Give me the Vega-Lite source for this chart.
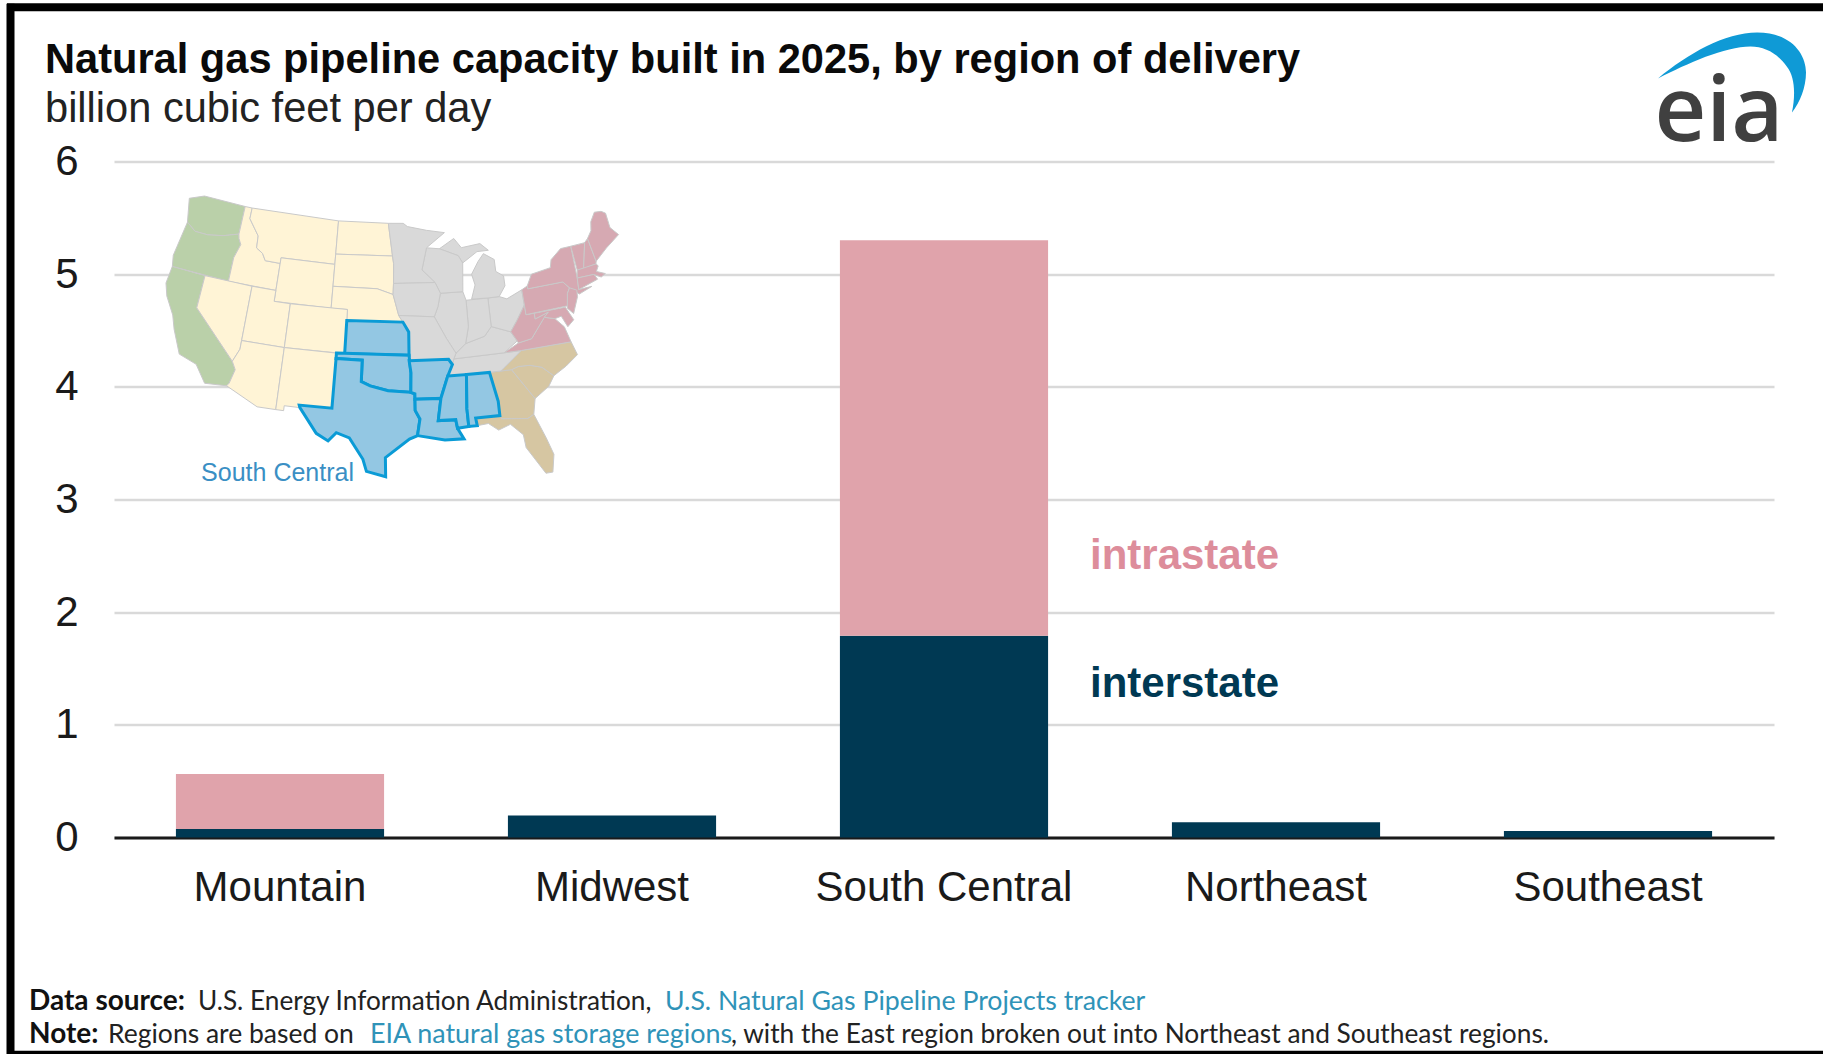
{"$schema":"https://vega.github.io/schema/vega-lite/v6.json","width":1660,"height":676,"autosize":{"type":"none"},"padding":{"left":114,"top":161.5,"right":49,"bottom":216.5},"background":"#ffffff",
"title":{"text":"Natural gas pipeline capacity built in 2025, by region of delivery","subtitle":"billion cubic feet per day","anchor":"start","frame":"group","dx":-69,"offset":-131,"font":"Liberation Sans","fontSize":41.6,"fontWeight":"bold","color":"#0a0a0a","subtitleFont":"Liberation Sans","subtitleFontSize":41.6,"subtitleColor":"#222222","subtitlePadding":8},
"config":{"view":{"stroke":null}},
"datasets":{
"bars":[{"region":"Mountain","type":"interstate","value":0.075,"o":1},{"region":"Mountain","type":"intrastate","value":0.488,"o":2},{"region":"Midwest","type":"interstate","value":0.195,"o":1},{"region":"South Central","type":"interstate","value":1.79,"o":1},{"region":"South Central","type":"intrastate","value":3.51,"o":2},{"region":"Northeast","type":"interstate","value":0.135,"o":1},{"region":"Southeast","type":"interstate","value":0.057,"o":1}],
"states":[
{"type":"Feature","properties":{"region":"Pacific"},"geometry":{"type":"Polygon","coordinates":[[[-124.7,48.4],[-122.8,49],[-117.03,49],[-117.04,46.4],[-119,45.93],[-121,45.65],[-122.7,45.65],[-124,46.25],[-124.7,48.4]]]}},
{"type":"Feature","properties":{"region":"Pacific"},"geometry":{"type":"Polygon","coordinates":[[[-124,46.25],[-122.7,45.65],[-121,45.65],[-119,45.93],[-117.04,46.4],[-116.9,46],[-116.5,45.5],[-117.03,44.2],[-117.03,42],[-124.2,42],[-124.5,43],[-124,46.25]]]}},
{"type":"Feature","properties":{"region":"Pacific"},"geometry":{"type":"Polygon","coordinates":[[[-124.2,42],[-120,42],[-120,39],[-114.63,35],[-114.13,34.3],[-114.5,33],[-114.72,32.72],[-117.12,32.53],[-118.5,34.03],[-120.6,34.55],[-121.9,36.6],[-122.5,37.8],[-123.8,39.3],[-124.35,40.4],[-124.2,42]]]}},
{"type":"Feature","properties":{"region":"Mountain"},"geometry":{"type":"Polygon","coordinates":[[[-117.03,49],[-116.05,49],[-116.05,48],[-114.5,46.6],[-114.4,45.5],[-113.5,45.1],[-113,44.5],[-111.05,44.48],[-111.05,42],[-117.03,42],[-117.03,44.2],[-116.5,45.5],[-116.9,46],[-117.04,46.4],[-117.03,49]]]}},
{"type":"Feature","properties":{"region":"Mountain"},"geometry":{"type":"Polygon","coordinates":[[[-116.05,49],[-104.05,49],[-104.05,45],[-111.05,45],[-111.05,44.48],[-113,44.5],[-113.5,45.1],[-114.4,45.5],[-114.5,46.6],[-116.05,48],[-116.05,49]]]}},
{"type":"Feature","properties":{"region":"Mountain"},"geometry":{"type":"Polygon","coordinates":[[[-111.05,45],[-104.05,45],[-104.05,41],[-111.05,41],[-111.05,45]]]}},
{"type":"Feature","properties":{"region":"Mountain"},"geometry":{"type":"Polygon","coordinates":[[[-104.05,49],[-97.2,49],[-96.6,46],[-104.05,45.94],[-104.05,49]]]}},
{"type":"Feature","properties":{"region":"Mountain"},"geometry":{"type":"Polygon","coordinates":[[[-104.05,45.94],[-96.6,46],[-96.45,45.3],[-96.45,43.5],[-96.5,42.5],[-98.5,43],[-104.05,43],[-104.05,45.94]]]}},
{"type":"Feature","properties":{"region":"Mountain"},"geometry":{"type":"Polygon","coordinates":[[[-104.05,43],[-98.5,43],[-96.5,42.5],[-95.8,40.6],[-95.3,40],[-102.05,40],[-102.05,41],[-104.05,41],[-104.05,43]]]}},
{"type":"Feature","properties":{"region":"Mountain"},"geometry":{"type":"Polygon","coordinates":[[[-120,42],[-114.04,42],[-114.04,36.2],[-114.63,35],[-120,39],[-120,42]]]}},
{"type":"Feature","properties":{"region":"Mountain"},"geometry":{"type":"Polygon","coordinates":[[[-114.04,42],[-111.05,42],[-111.05,41],[-109.05,41],[-109.05,37],[-114.04,37],[-114.04,42]]]}},
{"type":"Feature","properties":{"region":"Mountain"},"geometry":{"type":"Polygon","coordinates":[[[-109.05,41],[-102.05,41],[-102.05,37],[-109.05,37],[-109.05,41]]]}},
{"type":"Feature","properties":{"region":"Mountain"},"geometry":{"type":"Polygon","coordinates":[[[-114.04,37],[-109.05,37],[-109.05,31.33],[-111.07,31.33],[-114.72,32.72],[-114.5,33],[-114.13,34.3],[-114.63,35],[-114.04,36.2],[-114.04,37]]]}},
{"type":"Feature","properties":{"region":"Mountain"},"geometry":{"type":"Polygon","coordinates":[[[-109.05,37],[-103,37],[-103.05,32],[-106.6,32],[-106.5,31.78],[-108.2,31.78],[-108.2,31.33],[-109.05,31.33],[-109.05,37]]]}},
{"type":"Feature","properties":{"region":"Southeast"},"geometry":{"type":"Polygon","coordinates":[[[-85.6,35],[-83.1,35],[-81,32.1],[-81.4,30.7],[-82.1,30.4],[-84.9,30.7],[-85,31],[-85,32.3],[-85.6,35]]]}},
{"type":"Feature","properties":{"region":"Southeast"},"geometry":{"type":"Polygon","coordinates":[[[-87.6,31],[-85,31],[-84.9,30.7],[-82.1,30.4],[-81.4,30.7],[-80.5,28.4],[-80,26.8],[-80.4,25.2],[-81.1,25.2],[-82.7,27.8],[-82.8,29],[-84,30.1],[-85.3,29.7],[-86.3,30.4],[-87.5,30.3],[-87.6,31]]]}},
{"type":"Feature","properties":{"region":"Southeast"},"geometry":{"type":"Polygon","coordinates":[[[-83.1,35],[-82.3,35.2],[-81,35.15],[-79.7,34.8],[-78.55,33.85],[-79.3,33],[-81,32.1],[-83.1,35]]]}},
{"type":"Feature","properties":{"region":"Southeast"},"geometry":{"type":"Polygon","coordinates":[[[-84.32,35],[-81.7,36.59],[-75.9,36.55],[-75.5,35.3],[-77,34.5],[-78.55,33.85],[-79.7,34.8],[-81,35.15],[-82.3,35.2],[-83.1,35],[-84.32,35]]]}},
{"type":"Feature","properties":{"region":"Midwest"},"geometry":{"type":"Polygon","coordinates":[[[-89.5,36.5],[-83.68,36.6],[-81.7,36.59],[-84.32,35],[-88.2,35],[-90.3,35],[-89.7,36],[-89.5,36.5]]]}},
{"type":"Feature","properties":{"region":"Midwest"},"geometry":{"type":"Polygon","coordinates":[[[-89.2,37],[-88,37.8],[-85.7,38.3],[-84.8,39.1],[-82.6,38.4],[-82,37.5],[-83.68,36.6],[-89.5,36.5],[-89.2,37]]]}},
{"type":"Feature","properties":{"region":"Midwest"},"geometry":{"type":"Polygon","coordinates":[[[-84.8,41.7],[-83.4,41.7],[-82.5,41.4],[-80.52,42],[-80.5,40.6],[-81.7,39.3],[-82.6,38.4],[-84.8,39.1],[-84.8,41.7]]]}},
{"type":"Feature","properties":{"region":"Midwest"},"geometry":{"type":"Polygon","coordinates":[[[-87.5,41.7],[-84.8,41.7],[-84.8,39.1],[-85.7,38.3],[-88,37.8],[-87.5,39.3],[-87.5,41.7]]]}},
{"type":"Feature","properties":{"region":"Midwest"},"geometry":{"type":"Polygon","coordinates":[[[-90.6,42.5],[-87.8,42.5],[-87.5,41.7],[-87.5,39.3],[-88,37.8],[-89.2,37],[-90.2,38.4],[-91.5,40.4],[-91,41.3],[-90.6,42.5]]]}},
{"type":"Feature","properties":{"region":"Midwest"},"geometry":{"type":"MultiPolygon","coordinates":[[[[-85.5,45.1],[-84.7,45.75],[-83.4,45.1],[-83.4,44],[-82.5,43.5],[-82.5,42.6],[-83.4,41.7],[-84.8,41.7],[-86.8,41.76],[-86.2,43],[-86.5,44],[-85.5,45.1]]],[[[-90.4,46.55],[-88.4,47.4],[-87.5,46.5],[-85,46.7],[-84,46],[-85.5,46],[-87.5,45.1],[-88,45.8],[-90.4,46.55]]]]}},
{"type":"Feature","properties":{"region":"Midwest"},"geometry":{"type":"Polygon","coordinates":[[[-92.1,46.7],[-90.4,46.55],[-88,45.8],[-87.5,45.1],[-87.8,42.5],[-90.6,42.5],[-91.2,43.5],[-92.8,44.7],[-92.1,46.7]]]}},
{"type":"Feature","properties":{"region":"Midwest"},"geometry":{"type":"Polygon","coordinates":[[[-97.2,49],[-95.15,49],[-94.6,48.7],[-92,48.3],[-89.6,48],[-92.1,46.7],[-92.8,44.7],[-91.2,43.5],[-96.45,43.5],[-96.45,45.3],[-96.6,46],[-97.2,49]]]}},
{"type":"Feature","properties":{"region":"Midwest"},"geometry":{"type":"Polygon","coordinates":[[[-96.45,43.5],[-91.2,43.5],[-90.6,42.5],[-91,41.3],[-91.5,40.4],[-95.8,40.6],[-96.5,42.5],[-96.45,43.5]]]}},
{"type":"Feature","properties":{"region":"Midwest"},"geometry":{"type":"Polygon","coordinates":[[[-95.8,40.6],[-91.5,40.4],[-90.2,38.4],[-89.2,37],[-89.5,36.5],[-89.7,36],[-90.1,36.5],[-94.62,36.5],[-94.62,39.1],[-95.3,40],[-95.8,40.6]]]}},
{"type":"Feature","properties":{"region":"Northeast"},"geometry":{"type":"Polygon","coordinates":[[[-83.68,36.6],[-81.9,37.3],[-80.3,37.5],[-78.4,39.2],[-77.2,38.9],[-76.3,38],[-75.9,36.55],[-81.7,36.59],[-83.68,36.6]]]}},
{"type":"Feature","properties":{"region":"Northeast"},"geometry":{"type":"Polygon","coordinates":[[[-82.6,38.4],[-81.7,39.3],[-80.5,40.6],[-80.5,39.72],[-79.5,39.72],[-79.5,39.2],[-77.8,39.6],[-78.4,39.2],[-80.3,37.5],[-81.9,37.3],[-82,37.5],[-82.6,38.4]]]}},
{"type":"Feature","properties":{"region":"Northeast"},"geometry":{"type":"Polygon","coordinates":[[[-79.5,39.72],[-75.7,39.72],[-75.05,38.45],[-75.9,37.95],[-76.4,39],[-77.2,38.9],[-78.4,39.2],[-77.8,39.6],[-79.5,39.2],[-79.5,39.72]]]}},
{"type":"Feature","properties":{"region":"Northeast"},"geometry":{"type":"Polygon","coordinates":[[[-80.52,42],[-79.76,42.27],[-79.76,42],[-75.35,42],[-74.7,41.35],[-75.1,40.9],[-75.4,39.8],[-80.5,39.72],[-80.5,40.6],[-80.52,42]]]}},
{"type":"Feature","properties":{"region":"Northeast"},"geometry":{"type":"Polygon","coordinates":[[[-79.76,42.27],[-79,43.25],[-76.5,43.5],[-76.2,44.2],[-74.7,45],[-73.35,45],[-73.5,42.05],[-73.65,41],[-72,41],[-73.7,40.6],[-74.7,41.35],[-75.35,42],[-79.76,42],[-79.76,42.27]]]}},
{"type":"Feature","properties":{"region":"Northeast"},"geometry":{"type":"Polygon","coordinates":[[[-74.7,41.35],[-73.9,41],[-74,40.4],[-74.9,39],[-75.5,39.6],[-75.1,40.9],[-74.7,41.35]]]}},
{"type":"Feature","properties":{"region":"Northeast"},"geometry":{"type":"Polygon","coordinates":[[[-73.35,45],[-71.5,45],[-72.45,42.73],[-73.27,42.75],[-73.35,45]]]}},
{"type":"Feature","properties":{"region":"Northeast"},"geometry":{"type":"Polygon","coordinates":[[[-71.5,45],[-71,45.3],[-70.7,43.1],[-70.8,42.87],[-72.45,42.73],[-71.5,45]]]}},
{"type":"Feature","properties":{"region":"Northeast"},"geometry":{"type":"Polygon","coordinates":[[[-71,45.3],[-70.3,45.9],[-70,46.7],[-69.2,47.45],[-68.3,47.35],[-67.8,47.07],[-67.8,45.7],[-67,44.85],[-69,44],[-70.7,43.1],[-71,45.3]]]}},
{"type":"Feature","properties":{"region":"Northeast"},"geometry":{"type":"Polygon","coordinates":[[[-73.27,42.75],[-70.8,42.87],[-70.6,42.65],[-71,42.2],[-70,41.8],[-70.6,41.6],[-71.4,42],[-73.5,42.05],[-73.27,42.75]]]}},
{"type":"Feature","properties":{"region":"Northeast"},"geometry":{"type":"Polygon","coordinates":[[[-73.5,42.05],[-71.4,42],[-71.1,41.5],[-73.65,41],[-73.5,42.05]]]}}
],
"southcentral":[
{"type":"Feature","properties":{"name":"KS"},"geometry":{"type":"Polygon","coordinates":[[[-102.05,40],[-95.3,40],[-94.62,39.1],[-94.62,37],[-102.05,37],[-102.05,40]]]}},
{"type":"Feature","properties":{"name":"OK"},"geometry":{"type":"Polygon","coordinates":[[[-103,37],[-94.62,37],[-94.43,35.4],[-94.48,33.64],[-97,33.8],[-99,34.2],[-100,34.56],[-100,36.5],[-103,36.5],[-103,37]]]}},
{"type":"Feature","properties":{"name":"TX"},"geometry":{"type":"Polygon","coordinates":[[[-103,36.5],[-100,36.5],[-100,34.56],[-99,34.2],[-97,33.8],[-94.48,33.64],[-94.04,33.5],[-94.04,32],[-93.55,31.2],[-93.85,29.7],[-94.7,29.4],[-97.2,27.7],[-97.15,25.95],[-99.1,26.4],[-99.5,27.5],[-101,29.4],[-102.4,29.8],[-103.2,29],[-104.5,29.6],[-106.5,31.78],[-106.6,32],[-103.05,32],[-103,36.5]]]}},
{"type":"Feature","properties":{"name":"AR"},"geometry":{"type":"Polygon","coordinates":[[[-94.62,36.5],[-90.1,36.5],[-89.7,36],[-90.3,35],[-91.2,33],[-94.04,33],[-94.04,33.5],[-94.48,33.64],[-94.43,35.4],[-94.62,36.5]]]}},
{"type":"Feature","properties":{"name":"LA"},"geometry":{"type":"Polygon","coordinates":[[[-94.04,33],[-91.2,33],[-91.6,31],[-89.73,31],[-89.6,30.2],[-89,29.2],[-91,29.2],[-93.85,29.7],[-93.55,31.2],[-94.04,32],[-94.04,33]]]}},
{"type":"Feature","properties":{"name":"MS"},"geometry":{"type":"Polygon","coordinates":[[[-90.3,35],[-88.2,35],[-88.45,31.9],[-88.4,30.3],[-89.6,30.2],[-89.73,31],[-91.6,31],[-91.2,33],[-90.3,35]]]}},
{"type":"Feature","properties":{"name":"AL"},"geometry":{"type":"Polygon","coordinates":[[[-88.2,35],[-85.6,35],[-85,32.3],[-85,31],[-87.6,31],[-87.5,30.3],[-88.4,30.3],[-88.45,31.9],[-88.2,35]]]}}
]},
"resolve":{"scale":{"color":"independent"}},
"layer":[
{"data":{"name":"bars"},"mark":{"type":"bar"},"encoding":{
"x":{"field":"region","type":"nominal","scale":{"domain":["Mountain","Midwest","South Central","Northeast","Southeast"],"paddingInner":0.373,"paddingOuter":0.1865},"axis":{"title":null,"labelAngle":0,"labelFont":"Liberation Sans","labelFontSize":42,"labelLimit":400,"labelColor":"#1a1a1a","labelPadding":30,"ticks":false,"domainColor":"#1a1a1a","domainWidth":3,"grid":false}},
"y":{"field":"value","type":"quantitative","stack":"zero","scale":{"domain":[0,6],"nice":false},"axis":{"title":null,"values":[0,1,2,3,4,5,6],"format":"d","labelFont":"Liberation Sans","labelFontSize":42,"labelColor":"#1a1a1a","labelPadding":36,"ticks":false,"domain":false,"grid":true,"gridColor":"#d9d9d9","gridWidth":2.5}},
"color":{"field":"type","type":"nominal","scale":{"domain":["interstate","intrastate"],"range":["#003953","#e0a3ab"]},"legend":null},
"order":{"field":"o","type":"quantitative"}}},
{"data":{"name":"states"},"projection":{"type":"albers","scale":628,"translate":[278,175]},"mark":{"type":"geoshape","stroke":"#c9c9c9","strokeWidth":1},"encoding":{"color":{"field":"properties.region","type":"nominal","scale":{"domain":["Pacific","Mountain","Midwest","Northeast","Southeast"],"range":["#bad0a9","#fff4d6","#d9d9d9","#d6a9b2","#d6c6a2"]},"legend":null}}},
{"data":{"name":"southcentral"},"projection":{"type":"albers","scale":628,"translate":[278,175]},"mark":{"type":"geoshape","fill":"#93c7e3","stroke":"#0a9bd6","strokeWidth":3},"encoding":{}},
{"data":{"values":[{"t":"South Central","lon":-108,"lat":25.6}]},"projection":{"type":"albers","scale":628,"translate":[278,175]},"mark":{"type":"text","font":"Liberation Sans","fontSize":25,"color":"#3a8fc4"},"encoding":{"longitude":{"field":"lon","type":"quantitative"},"latitude":{"field":"lat","type":"quantitative"},"text":{"field":"t"}}},
{"data":{"values":[{"t":"intrastate","region":"South Central","v":2.5}]},"mark":{"type":"text","align":"left","dx":146,"font":"Liberation Sans","fontWeight":"bold","fontSize":42,"color":"#dd8d9b"},"encoding":{"x":{"field":"region","type":"nominal"},"y":{"field":"v","type":"quantitative"},"text":{"field":"t"}}},
{"data":{"values":[{"t":"interstate","region":"South Central","v":1.364}]},"mark":{"type":"text","align":"left","dx":146,"font":"Liberation Sans","fontWeight":"bold","fontSize":42,"color":"#003953"},"encoding":{"x":{"field":"region","type":"nominal"},"y":{"field":"v","type":"quantitative"},"text":{"field":"t"}}},
{"data":{"values":[{"t":"eia"}]},"mark":{"type":"text","align":"center","baseline":"alphabetic","dx":111,"font":"Open Sans","fontWeight":600,"fontSize":90,"color":"#404040"},"encoding":{"x":{"datum":"Southeast"},"y":{"datum":6.18},"text":{"field":"t"}}},
{"data":{"values":[{"t":"swoosh"}]},"mark":{"type":"point","shape":"M-1 0.08 C-0.6 -0.25 -0.1 -0.54 0.34 -0.54 C0.8 -0.54 1 -0.25 1 0 C1 0.2 0.92 0.4 0.81 0.54 C0.86 0.3 0.85 0.05 0.74 -0.08 C0.62 -0.25 0.45 -0.35 0.25 -0.35 C-0.1 -0.35 -0.6 -0.12 -1 0.08 Z","filled":true,"opacity":1,"color":"#0f9ad6","size":21904,"xOffset":124},"encoding":{"x":{"datum":"Southeast"},"y":{"datum":6.79}}},
{"data":{"values":[{"t":"Data source:"}]},"mark":{"type":"text","align":"left","dx":-251,"font":"Lato","fontWeight":"bold","fontSize":28,"color":"#111111"},"encoding":{"x":{"datum":"Mountain"},"y":{"datum":-1.46},"text":{"field":"t"}}},
{"data":{"values":[{"t":"U.S. Energy Information Administration,"}]},"mark":{"type":"text","align":"left","dx":-82,"font":"Lato","fontSize":26.2,"color":"#222222"},"encoding":{"x":{"datum":"Mountain"},"y":{"datum":-1.46},"text":{"field":"t"}}},
{"data":{"values":[{"t":"U.S. Natural Gas Pipeline Projects tracker"}]},"mark":{"type":"text","align":"left","dx":385,"font":"Lato","fontSize":26.7,"color":"#2f93b8"},"encoding":{"x":{"datum":"Mountain"},"y":{"datum":-1.46},"text":{"field":"t"}}},
{"data":{"values":[{"t":"Note:"}]},"mark":{"type":"text","align":"left","dx":-251,"font":"Lato","fontWeight":"bold","fontSize":28,"color":"#111111"},"encoding":{"x":{"datum":"Mountain"},"y":{"datum":-1.755},"text":{"field":"t"}}},
{"data":{"values":[{"t":"Regions are based on"}]},"mark":{"type":"text","align":"left","dx":-172,"font":"Lato","fontSize":26.5,"color":"#222222"},"encoding":{"x":{"datum":"Mountain"},"y":{"datum":-1.755},"text":{"field":"t"}}},
{"data":{"values":[{"t":"EIA natural gas storage regions"}]},"mark":{"type":"text","align":"left","dx":90,"font":"Lato","fontSize":26.9,"color":"#2f93b8"},"encoding":{"x":{"datum":"Mountain"},"y":{"datum":-1.755},"text":{"field":"t"}}},
{"data":{"values":[{"t":", with the East region broken out into Northeast and Southeast regions."}]},"mark":{"type":"text","align":"left","dx":451,"font":"Lato","fontSize":26.3,"color":"#222222"},"encoding":{"x":{"datum":"Mountain"},"y":{"datum":-1.755},"text":{"field":"t"}}},
{"data":{"values":[{"t":"frame"}]},"mark":{"type":"rule","color":"#000000","strokeWidth":8,"xOffset":-273,"x2Offset":215},"encoding":{"x":{"datum":"Mountain"},"x2":{"datum":"Southeast"},"y":{"datum":7.368}}},
{"data":{"values":[{"t":"frame"}]},"mark":{"type":"rule","color":"#000000","strokeWidth":8,"xOffset":-269.5},"encoding":{"x":{"datum":"Mountain"},"y":{"datum":7.4},"y2":{"datum":-1.93}}},
{"data":{"values":[{"t":"frame"}]},"mark":{"type":"rule","color":"#000000","strokeWidth":4,"xOffset":-273,"x2Offset":215},"encoding":{"x":{"datum":"Mountain"},"x2":{"datum":"Southeast"},"y":{"datum":-1.91}}}
]}
